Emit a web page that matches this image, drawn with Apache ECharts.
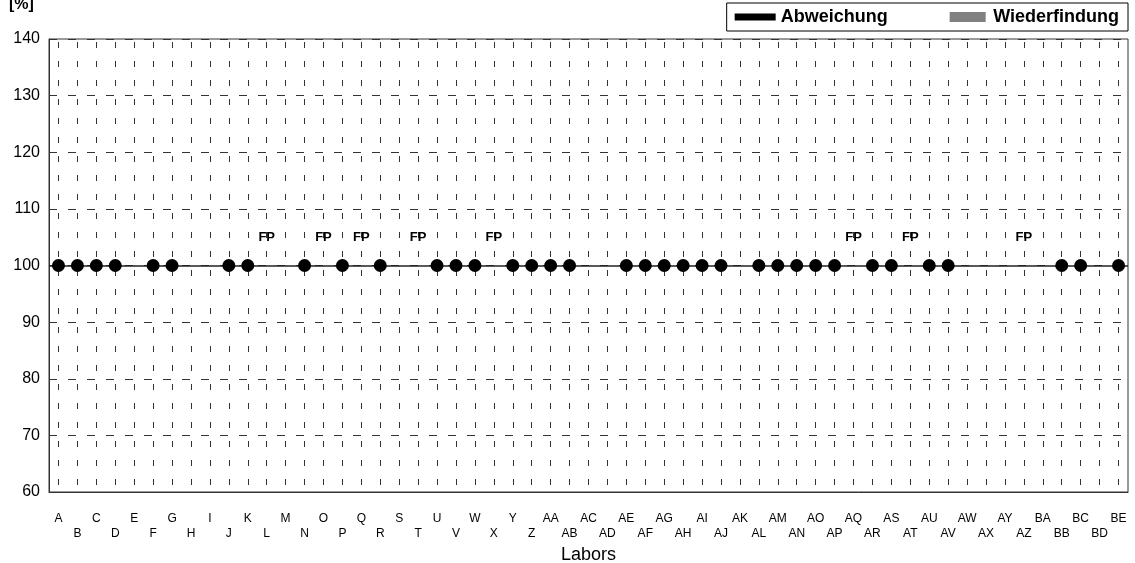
<!DOCTYPE html>
<html>
<head>
<meta charset="utf-8">
<script src="https://cdn.jsdelivr.net/npm/echarts@6/dist/echarts.min.js"></script>
<style>
html,body{margin:0;padding:0;background:#fff;}
#chart{width:1135px;height:563px;}
</style>
</head>
<body>
<div id="chart"></div>
<script>
const categories = ['A','B','C','D','E','F','G','H','I','J','K','L','M','N','O','P','Q','R','S','T','U','V','W','X','Y','Z',
  'AA','AB','AC','AD','AE','AF','AG','AH','AI','AJ','AK','AL','AM','AN','AO','AP','AQ','AR','AS','AT','AU','AV','AW','AX','AY','AZ',
  'BA','BB','BC','BD','BE'];
const abweichung = [100,100,100,100,null,100,100,null,null,100,100,null,null,100,null,100,null,100,null,null,100,100,100,null,100,100,
  100,100,null,null,100,100,100,100,100,100,null,100,100,100,100,100,null,100,100,null,100,100,null,null,null,null,
  null,100,100,null,100];
const wiederfindung = [];
const fpCategories = ['L','O','Q','T','X','AQ','AT','AZ'];
const fpLevel = 105;
const referenceLevel = 100;
const yTicks = { min: 60, max: 140, interval: 10 };

const chart = echarts.init(document.getElementById('chart'), null, { renderer: 'canvas' });
const dashV = { color: '#333', width: 1, type: [6, 13], dashOffset: 16 };
chart.setOption({
  animation: false,
  backgroundColor: '#fff',
  title: {
    text: '[%]', left: 4, top: -8,
    textStyle: { fontFamily: 'Liberation Sans, Arial', fontSize: 16, fontWeight: 'bold', color: '#000' }
  },
  legend: {
    right: 7, top: 3,
    padding: [5, 9, 5, 8],
    borderColor: '#000', borderWidth: 1,
    itemGap: 62, itemWidth: 41, itemHeight: 10,
    data: [
      { name: 'Abweichung', icon: 'path://M0,0H41V7H0Z', itemStyle: { color: '#000', opacity: 1 } },
      { name: 'Wiederfindung', icon: 'path://M0,0H36V10H0Z', itemStyle: { color: '#808080', opacity: 1 } }
    ],
    textStyle: { fontFamily: 'Liberation Sans, Arial', fontSize: 18, fontWeight: 'bold', color: '#000' }
  },
  grid: {
    left: 49, right: 7, top: 39, bottom: 71,
    containLabel: false, outerBoundsMode: 'none',
    show: true, borderColor: '#333', borderWidth: 1, backgroundColor: 'transparent'
  },
  xAxis: {
    type: 'category',
    data: categories,
    boundaryGap: true,
    name: 'Labors', nameLocation: 'middle', nameGap: 53,
    nameTextStyle: { fontFamily: 'Liberation Sans, Arial', fontSize: 18, color: '#000' },
    axisLine: { lineStyle: { color: '#333', width: 1 } },
    axisTick: { show: false },
    axisLabel: {
      interval: 0, margin: 19, fontFamily: 'Liberation Sans, Arial', fontSize: 12, color: '#000', lineHeight: 15,
      formatter: (v, i) => (i % 2 === 1 ? '\n' + v : v)
    },
    splitLine: { show: true, alignWithLabel: true, interval: 0, lineStyle: dashV }
  },
  yAxis: {
    type: 'value', min: yTicks.min, max: yTicks.max, interval: yTicks.interval,
    axisLine: { show: true, lineStyle: { color: '#333', width: 1 } },
    axisTick: { show: false },
    axisLabel: { margin: 9, fontFamily: 'Liberation Sans, Arial', fontSize: 16, color: '#000', padding: [0, 0, 6, 0] },
    splitLine: { show: true, lineStyle: { color: '#333', width: 1, type: [8, 11] } }
  },
  series: [
    {
      name: 'Abweichung', type: 'scatter', data: abweichung,
      symbol: 'circle', symbolSize: 13,
      itemStyle: { color: '#000', opacity: 1 },
      z: 5,
      markLine: {
        silent: true, symbol: 'none', animation: false,
        label: { show: false },
        lineStyle: { color: '#222', width: 1.5, type: 'solid', opacity: 1 },
        data: [{ yAxis: referenceLevel }]
      }
    },
    {
      name: 'Wiederfindung', type: 'bar', data: wiederfindung,
      itemStyle: { color: '#808080' }
    },
    {
      name: 'FP', type: 'scatter', symbolSize: 0,
      data: fpCategories.map(c => [c, fpLevel]),
      itemStyle: { opacity: 1 },
      label: {
        show: true, position: 'inside', formatter: 'FP',
        fontFamily: 'Liberation Sans, Arial', fontSize: 13, fontWeight: 'bold', color: '#000', opacity: 1
      },
      z: 6
    }
  ]
});
</script>
</body>
</html>
